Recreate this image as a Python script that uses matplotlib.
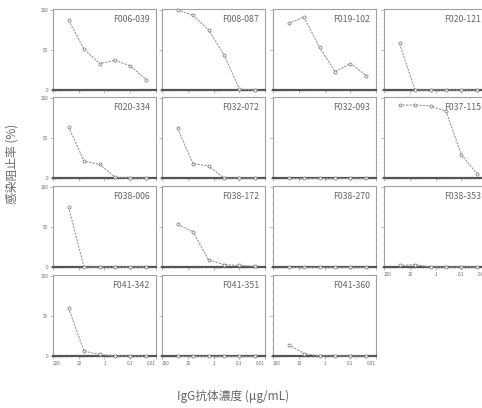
import numpy as np
import matplotlib
matplotlib.use('Agg')
import matplotlib.pyplot as plt
from matplotlib.ticker import FixedLocator, NullFormatter

plt.rcParams['font.family'] = ['Noto Sans CJK JP', 'DejaVu Sans']

# IgG concentration (ug/mL), 4-fold dilutions
conc = [25, 6.25, 1.5625, 0.39, 0.098, 0.024]

# inhibition (%) per antibody
f006_039 = [87, 51, 33, 37, 30, 13]
f008_087 = [100, 93, 75, 44, 1, 0]
f019_102 = [83, 91, 53, 23, 33, 18]
f020_121 = [58, 0, 0, 0, 0, 0]
f020_334 = [64, 21, 17, 1, 0, 0]
f032_072 = [62, 18, 15, 0, 0, 0]
f032_093 = [0, 0, 0, 0, 0, 0]
f037_115 = [91, 91, 90, 83, 29, 5]
f038_006 = [75, 0, 0, 0, 0, 0]
f038_172 = [53, 44, 9, 3, 2, 1]
f038_270 = [0, 0, 0, 0, 0, 0]
f038_353 = [2, 3, 0, 0, 0, 0]
f041_342 = [60, 6, 2, 0, 0, 0]
f041_351 = [0, 0, 0, 0, 0, 0]
f041_360 = [14, 3, 0, 0, 0, 0]

names = ['F006-039', 'F008-087', 'F019-102', 'F020-121',
         'F020-334', 'F032-072', 'F032-093', 'F037-115',
         'F038-006', 'F038-172', 'F038-270', 'F038-353',
         'F041-342', 'F041-351', 'F041-360']
series = [f006_039, f008_087, f019_102, f020_121,
          f020_334, f032_072, f032_093, f037_115,
          f038_006, f038_172, f038_270, f038_353,
          f041_342, f041_351, f041_360]

xticks = [100, 10, 1, 0.1, 0.01]
xticklabels = ['100', '10', '1', '0.1', '0.01']
yticks = [0, 50, 100]

W, H = 482, 408
fig = plt.figure(figsize=(W / 100, H / 100), dpi=100)
fig.patch.set_facecolor('white')

col_left = [53, 162, 273, 384]
col_w = 103
row_top = [9, 97, 186, 275]
row_h = 81

for i, (name, vals) in enumerate(zip(names, series)):
    r, c = divmod(i, 4)
    ax = fig.add_axes([col_left[c] / W, 1 - (row_top[r] + row_h) / H,
                       col_w / W, row_h / H])
    ax.plot(conc, vals, color='#999999', lw=0.8, ls=(0, (2, 1)),
            marker='o', ms=2.2, mfc='white', mec='#808080', mew=0.6,
            clip_on=False, zorder=3)
    ax.set_xscale('log')
    ax.set_xlim(100, 0.01)
    ax.set_ylim(0, 101)
    ax.text(0.94, 0.87, name, transform=ax.transAxes, ha='right', va='center',
            fontsize=6.3, color='#666666')
    for s in ax.spines.values():
        s.set_color('#a0a0a0')
        s.set_linewidth(0.8)
    ax.spines['bottom'].set_color('#555555')
    ax.spines['bottom'].set_linewidth(1.6)
    ax.xaxis.set_major_locator(FixedLocator(xticks))
    ax.xaxis.set_minor_formatter(NullFormatter())
    ax.yaxis.set_major_locator(FixedLocator(yticks))
    ax.yaxis.set_minor_locator(FixedLocator(np.arange(0, 101, 10)))
    ax.tick_params(which='both', colors='#999999', labelcolor='#666666',
                   labelsize=3.3, length=2, width=0.5, pad=1.5)
    ax.tick_params(which='minor', length=1)
    if c == 0:
        ax.set_yticklabels([str(t) for t in yticks])
    else:
        ax.set_yticklabels([])
    if r == 3 or (r == 2 and c == 3):
        ax.set_xticklabels(xticklabels)
        labs = ax.get_xticklabels()
        labs[0].set_ha('left')
        labs[-1].set_ha('right')
    else:
        ax.set_xticklabels([])

fig.text(12 / W, 1 - 164 / H, '感染阻止率 (%)', rotation=90, ha='center',
         va='center', fontsize=8.5, color='#666666')
fig.text(233 / W, 1 - 396 / H, 'IgG抗体濃度 (μg/mL)', ha='center',
         va='center', fontsize=8.5, color='#666666')

fig.savefig('out.png', dpi=100, facecolor='white')
